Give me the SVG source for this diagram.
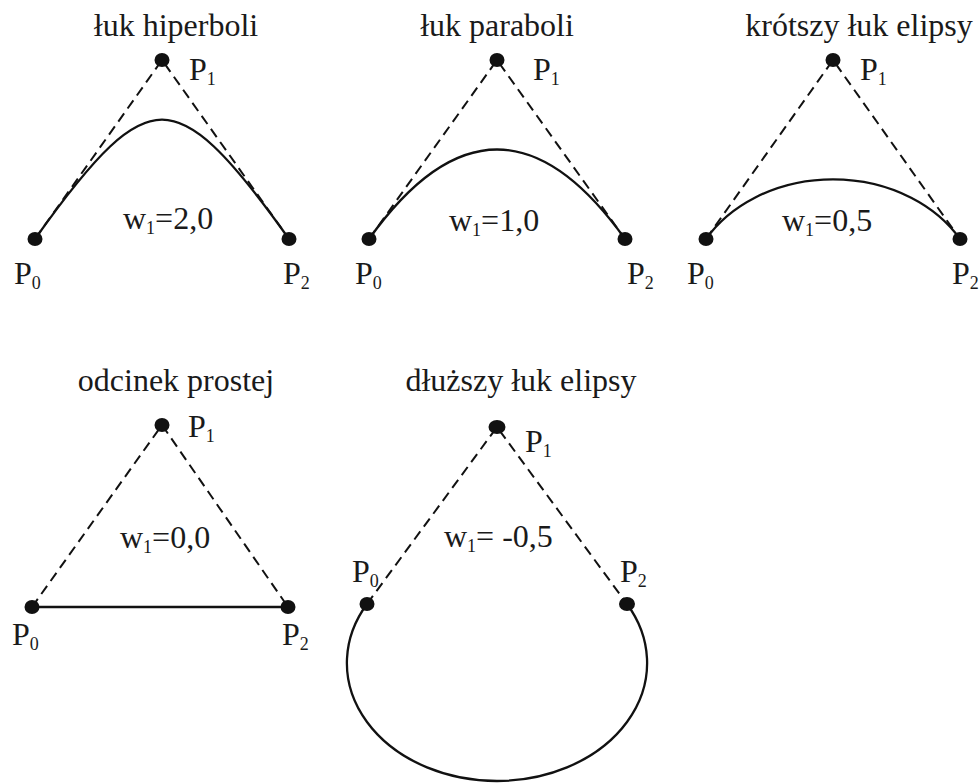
<svg xmlns="http://www.w3.org/2000/svg" width="980" height="783" viewBox="0 0 980 783">
<style>
text{font-family:"Liberation Serif","Times New Roman",serif;fill:#1a1a1a}
.t{font-size:32px;text-anchor:middle}
.l{font-size:32px}
.s{font-size:18px}
.dash{fill:none;stroke:#111;stroke-width:2;stroke-dasharray:10 6}
.curve{fill:none;stroke:#111;stroke-width:2.3}
.dot{fill:#111}
</style>
<rect width="980" height="783" fill="#fff"/>
<g id="titles">
<text class="t" x="176" y="36">łuk hiperboli</text>
<text class="t" x="497" y="36">łuk paraboli</text>
<text class="t" x="859" y="36">krótszy łuk elipsy</text>
<text class="t" x="176" y="391">odcinek prostej</text>
<text class="t" x="521" y="391">dłuższy łuk elipsy</text>
</g>
<g id="connectors">
<path class="dash" d="M35,239 L162,60 L289,239"/>
<path class="curve" d="M35,239 C97.1,151.4 130.9,119.7 162,119.7 C193.1,119.7 226.9,151.4 289,239"/>
<path class="dash" d="M369,239 L497,60 L625,239"/>
<path class="curve" d="M369,239 Q497,60 625,239"/>
<path class="dash" d="M706,239 L833,60 L960,239"/>
<path class="curve" d="M706,239 A146.65,119.33 0 0 1 960,239"/>
<path class="dash" d="M32,607 L162,425 L288,607"/>
<path class="curve" d="M32,607 L288,607"/>
<path class="dash" d="M367,604 L497,427 L627,604"/>
<path class="curve" d="M367,604 A150.11,118 0 1 0 627,604"/>
</g>
<g id="hyperbola-nodes">
<g id="h-P0"><ellipse class="dot" cx="35" cy="239" rx="7.5" ry="7"/><text class="l" x="14" y="284">P<tspan class="s" dy="5">0</tspan></text></g>
<g id="h-P1"><ellipse class="dot" cx="162" cy="60" rx="7.5" ry="7"/><text class="l" x="189" y="80">P<tspan class="s" dy="5">1</tspan></text></g>
<g id="h-P2"><ellipse class="dot" cx="289" cy="239" rx="7.5" ry="7"/><text class="l" x="283" y="284">P<tspan class="s" dy="5">2</tspan></text></g>
<text class="l" x="123" y="229">w<tspan class="s" dy="5">1</tspan><tspan dy="-5">=2,0</tspan></text>
</g>
<g id="parabola-nodes">
<g id="p-P0"><ellipse class="dot" cx="369" cy="239" rx="7.5" ry="7"/><text class="l" x="355" y="284">P<tspan class="s" dy="5">0</tspan></text></g>
<g id="p-P1"><ellipse class="dot" cx="497" cy="60" rx="7.5" ry="7"/><text class="l" x="533" y="80">P<tspan class="s" dy="5">1</tspan></text></g>
<g id="p-P2"><ellipse class="dot" cx="625" cy="239" rx="7.5" ry="7"/><text class="l" x="627" y="284">P<tspan class="s" dy="5">2</tspan></text></g>
<text class="l" x="449" y="231">w<tspan class="s" dy="5">1</tspan><tspan dy="-5">=1,0</tspan></text>
</g>
<g id="short-ellipse-nodes">
<g id="e-P0"><ellipse class="dot" cx="706" cy="239" rx="7.5" ry="7"/><text class="l" x="687" y="284">P<tspan class="s" dy="5">0</tspan></text></g>
<g id="e-P1"><ellipse class="dot" cx="833" cy="60" rx="7.5" ry="7"/><text class="l" x="860" y="80">P<tspan class="s" dy="5">1</tspan></text></g>
<g id="e-P2"><ellipse class="dot" cx="960" cy="239" rx="7.5" ry="7"/><text class="l" x="952" y="284">P<tspan class="s" dy="5">2</tspan></text></g>
<text class="l" x="782" y="231">w<tspan class="s" dy="5">1</tspan><tspan dy="-5">=0,5</tspan></text>
</g>
<g id="line-nodes">
<g id="s-P0"><ellipse class="dot" cx="32" cy="607" rx="7.5" ry="7"/><text class="l" x="12" y="645">P<tspan class="s" dy="5">0</tspan></text></g>
<g id="s-P1"><ellipse class="dot" cx="162" cy="425" rx="7.5" ry="7"/><text class="l" x="188" y="437">P<tspan class="s" dy="5">1</tspan></text></g>
<g id="s-P2"><ellipse class="dot" cx="288" cy="607" rx="7.5" ry="7"/><text class="l" x="282" y="645">P<tspan class="s" dy="5">2</tspan></text></g>
<text class="l" x="120" y="548">w<tspan class="s" dy="5">1</tspan><tspan dy="-5">=0,0</tspan></text>
</g>
<g id="long-ellipse-nodes">
<g id="d-P0"><ellipse class="dot" cx="367" cy="604" rx="7.5" ry="7"/><text class="l" x="352" y="582">P<tspan class="s" dy="5">0</tspan></text></g>
<g id="d-P1"><ellipse class="dot" cx="497" cy="427" rx="8.5" ry="7"/><text class="l" x="525" y="452">P<tspan class="s" dy="5">1</tspan></text></g>
<g id="d-P2"><ellipse class="dot" cx="627" cy="604" rx="8" ry="7"/><text class="l" x="620" y="582">P<tspan class="s" dy="5">2</tspan></text></g>
<text class="l" x="444" y="547">w<tspan class="s" dy="5">1</tspan><tspan dy="-5">= -0,5</tspan></text>
</g>
</svg>
